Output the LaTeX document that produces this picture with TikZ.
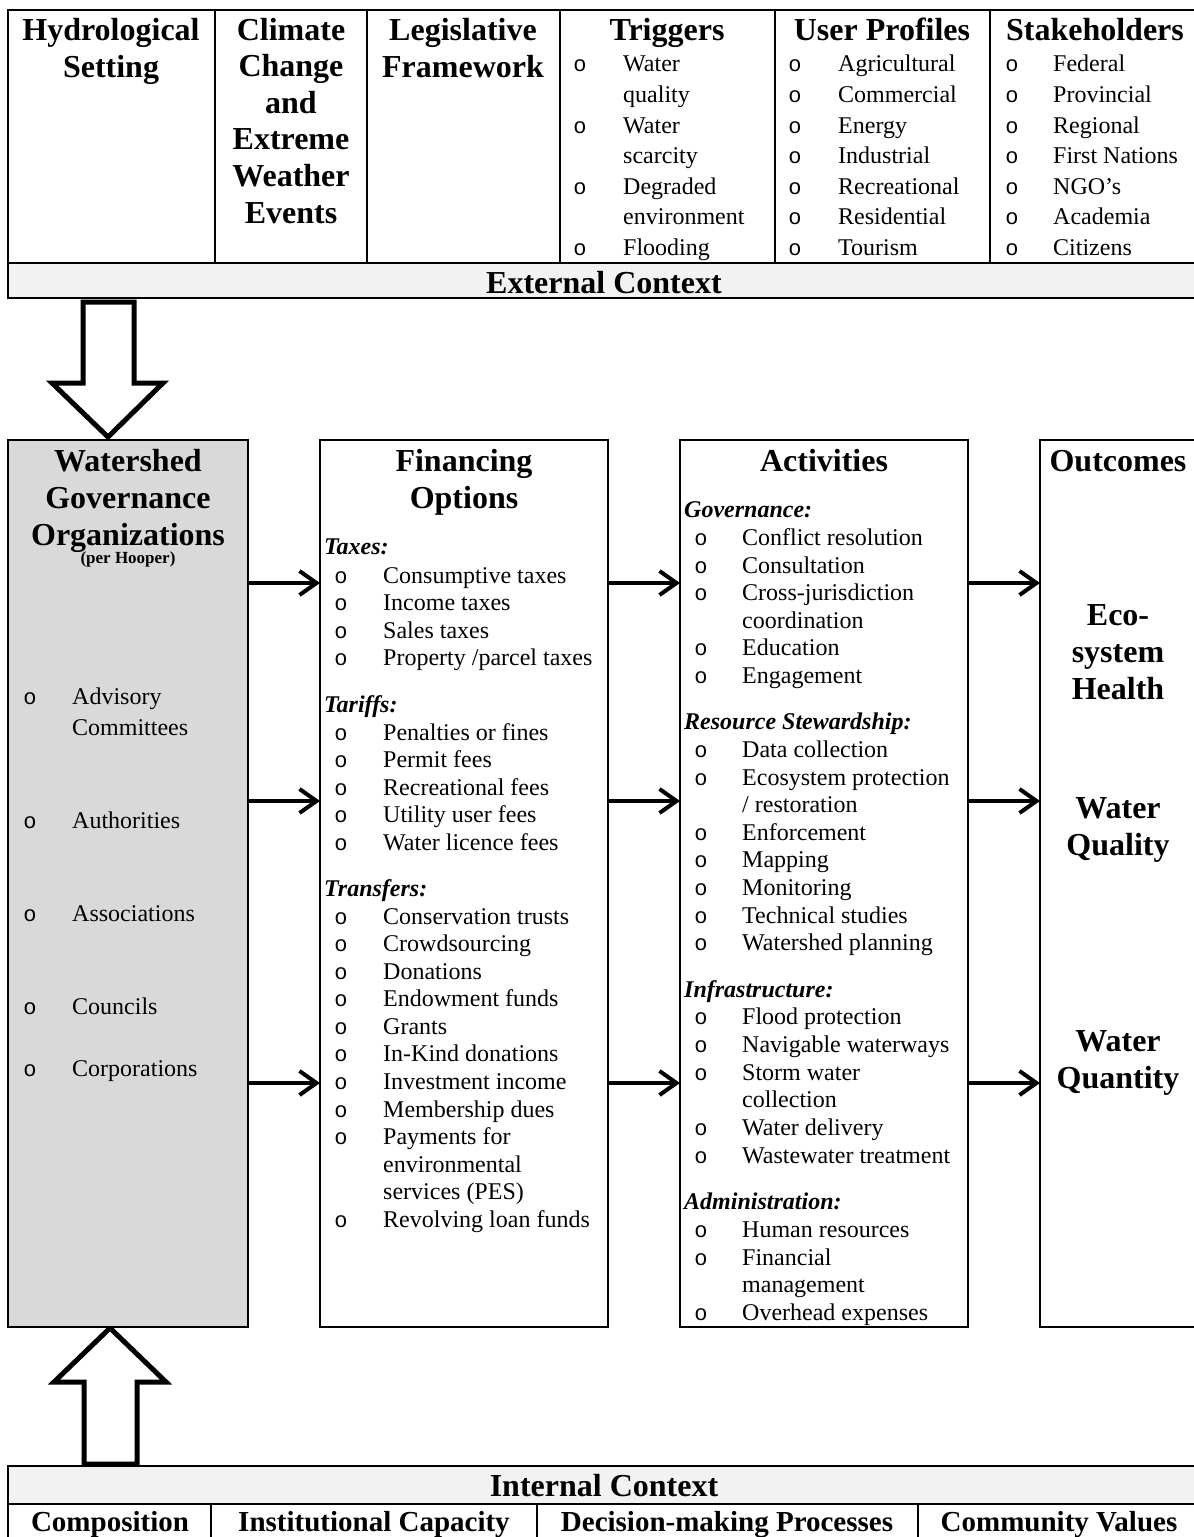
\documentclass[tikz,border=0pt]{standalone}
\usepackage{fontspec}
\setmainfont{Liberation Serif}
\newfontfamily\bulfont{Liberation Mono}
\usetikzlibrary{arrows.meta}
\definecolor{wsgray}{HTML}{D9D9D9}
\definecolor{ctxgray}{HTML}{F2F2F2}
\tikzset{
  frame/.style={draw=black,line width=2pt,anchor=north west,inner sep=0pt,outer sep=0pt},
  body/.style={anchor=base west,inner sep=0pt,font=\fontsize{24}{27.6}\selectfont},
  bul/.style={anchor=base,inner sep=0pt,font=\bulfont\fontsize{22}{27.6}\selectfont},
  head/.style={anchor=base,inner sep=0pt,font=\bfseries\fontsize{32}{37}\selectfont},
  foot/.style={anchor=base,inner sep=0pt,font=\bfseries\fontsize{29}{33}\selectfont},
  subhead/.style={anchor=base west,inner sep=0pt,font=\bfseries\itshape\fontsize{24}{27.6}\selectfont},
  flow/.style={line width=4pt,-{Straight Barb[length=17pt,width=24pt]}},
  bigarrow/.style={draw=black,fill=white,line width=5pt,line join=miter},
  divider/.style={line width=2pt},
}
\begin{document}
\begin{tikzpicture}[x=1pt,y=-1pt]
\useasboundingbox (0,0) rectangle (1194,1537);
\fill[white] (0,0) rectangle (1194,1537);

% ---------------- External context table ----------------
\node[frame,fill=ctxgray,minimum width=1192pt,minimum height=35pt] (extrow) at (8,263) {};
\node[frame,line width=2.5pt,minimum width=1192pt,minimum height=288pt] (ext) at (8,10) {};
\foreach \x in {215,367,560,775,990} \draw[divider] (\x,10) -- (\x,263);

\node[head] (hs1) at (111,40) {Hydrological};
\node[head] (hs2) at (111,77) {Setting};
\foreach \t [count=\i] in {Climate,Change,and,Extreme,Weather,Events}
  \node[head] (cc\i) at (291,{40+36.6*(\i-1)}) {\t};
\node[head] (lf1) at (463,40) {Legislative};
\node[head] (lf2) at (463,77) {Framework};
\node[head] (trg) at (667,40) {Triggers};
\node[head] (usr) at (882,40) {User Profiles};
\node[head] (stk) at (1095,40) {Stakeholders};

% Triggers
\foreach \y in {71,133,194,255} \node[bul] (tb\y) at (580,\y) {o};
\foreach \y/\t in {71/Water,102/quality,133/Water,163/scarcity,194/Degraded,224/environment,255/Flooding}
  \node[body] (tt\y) at (623,\y) {\t};
% User profiles
\foreach \y/\t in {71/Agricultural,102/Commercial,133/Energy,163/Industrial,194/Recreational,224/Residential,255/Tourism}
  {\node[bul] (ub\y) at (795,\y) {o}; \node[body] (ut\y) at (838,\y) {\t};}
% Stakeholders
\foreach \y/\t in {71/Federal,102/Provincial,133/Regional,163/First Nations,194/NGO’s,224/Academia,255/Citizens}
  {\node[bul] (sb\y) at (1012,\y) {o}; \node[body] (st\y) at (1053,\y) {\t};}

\node[head] (extt) at (604,293) {External Context};

% ---------------- Block arrows ----------------
\draw[bigarrow] (83,302) -- (134,302) -- (134,383) -- (163,383) -- (108,437) -- (52,383) -- (83,383) -- cycle;
\draw[bigarrow] (84,1464) -- (137,1464) -- (137,1382) -- (166,1382) -- (110,1328) -- (54,1382) -- (84,1382) -- cycle;

% ---------------- Middle boxes ----------------
\node[frame,fill=wsgray,minimum width=240pt,minimum height=887pt] (ws) at (8,440) {};
\node[frame,minimum width=288pt,minimum height=887pt] (fin) at (320,440) {};
\node[frame,minimum width=288pt,minimum height=887pt] (act) at (680,440) {};
\node[frame,minimum width=160pt,minimum height=887pt] (out) at (1040,440) {};

% Watershed governance organizations
\node[head] (ws1) at (128,471) {Watershed};
\node[head] (ws2) at (128,508) {Governance};
\node[head] (ws3) at (128,545) {Organizations};
\node[anchor=base,inner sep=0pt,font=\bfseries\fontsize{17}{20}\selectfont] (ws4) at (128,563) {(per Hooper)};
\foreach \y in {704,828,921,1014,1076} \node[bul] (wb\y) at (30,\y) {o};
\foreach \y/\t in {704/Advisory,735/Committees,828/Authorities,921/Associations,1014/Councils,1076/Corporations}
  \node[body] (wt\y) at (72,\y) {\t};

% Financing options
\node[head] (fo1) at (464,471) {Financing};
\node[head] (fo2) at (464,508) {Options};
\node[subhead] (fs1) at (324,554) {Taxes:};
\node[subhead] (fs2) at (324,712) {Tariffs:};
\node[subhead] (fs3) at (324,896) {Transfers:};
\foreach \y in {583,610,638,665,740,767,795,822,850,924,951,979,1006,1034,1061,1089,1117,1144,1227}
  \node[bul] (fb\y) at (341,\y) {o};
\foreach \y/\t in {583/Consumptive taxes,610/Income taxes,638/Sales taxes,665/{Property /parcel taxes},
  740/Penalties or fines,767/Permit fees,795/Recreational fees,822/Utility user fees,850/Water licence fees,
  924/Conservation trusts,951/Crowdsourcing,979/Donations,1006/Endowment funds,1034/Grants,
  1061/In-Kind donations,1089/Investment income,1117/Membership dues,1144/Payments for,
  1172/environmental,1199/services (PES),1227/Revolving loan funds}
  \node[body] (ft\y) at (383,\y) {\t};

% Activities
\node[head] (ac1) at (824,471) {Activities};
\node[subhead] (as1) at (684,517) {Governance:};
\node[subhead] (as2) at (684,729) {Resource Stewardship:};
\node[subhead] (as3) at (684,997) {Infrastructure:};
\node[subhead] (as4) at (684,1209) {Administration:};
\foreach \y in {545,573,600,655,683,757,785,840,867,895,923,950,1024,1052,1080,1135,1163,1237,1265,1320}
  \node[bul] (ab\y) at (701,\y) {o};
\foreach \y/\t in {545/Conflict resolution,573/Consultation,600/Cross-jurisdiction,628/coordination,
  655/Education,683/Engagement,757/Data collection,785/Ecosystem protection,812/{/ restoration},
  840/Enforcement,867/Mapping,895/Monitoring,923/Technical studies,950/Watershed planning,
  1024/Flood protection,1052/Navigable waterways,1080/Storm water,1107/collection,
  1135/Water delivery,1163/Wastewater treatment,1237/Human resources,1265/Financial,
  1292/management,1320/Overhead expenses}
  \node[body] (at\y) at (742,\y) {\t};

% Outcomes
\node[head] (oc0) at (1118,471) {Outcomes};
\node[head] (oc1) at (1118,625) {Eco-};
\node[head] (oc2) at (1118,662) {system};
\node[head] (oc3) at (1118,699) {Health};
\node[head] (oc4) at (1118,818) {Water};
\node[head] (oc5) at (1118,855) {Quality};
\node[head] (oc6) at (1118,1051) {Water};
\node[head] (oc7) at (1118,1088) {Quantity};

% Flow arrows
\foreach \y in {583,801,1083} {
  \coordinate (lv\y) at (0,\y);
  \draw[flow] (ws.east |- lv\y) -- (fin.west |- lv\y);
  \draw[flow] (fin.east |- lv\y) -- (act.west |- lv\y);
  \draw[flow] (act.east |- lv\y) -- (out.west |- lv\y);
}

% ---------------- Internal context table ----------------
\node[frame,fill=ctxgray,minimum width=1192pt,minimum height=38pt] (introw) at (8,1466) {};
\node[frame,minimum width=1192pt,minimum height=100pt] (int) at (8,1466) {};
\foreach \x in {211,537,918} \draw[divider] (\x,1504) -- (\x,1566);
\node[head] (intt) at (604,1496) {Internal Context};
\node[foot] (ic1) at (110,1531) {Composition};
\node[foot] (ic2) at (374,1531) {Institutional Capacity};
\node[foot] (ic3) at (727,1531) {Decision-making Processes};
\node[foot] (ic4) at (1059,1531) {Community Values};
\end{tikzpicture}
\end{document}
